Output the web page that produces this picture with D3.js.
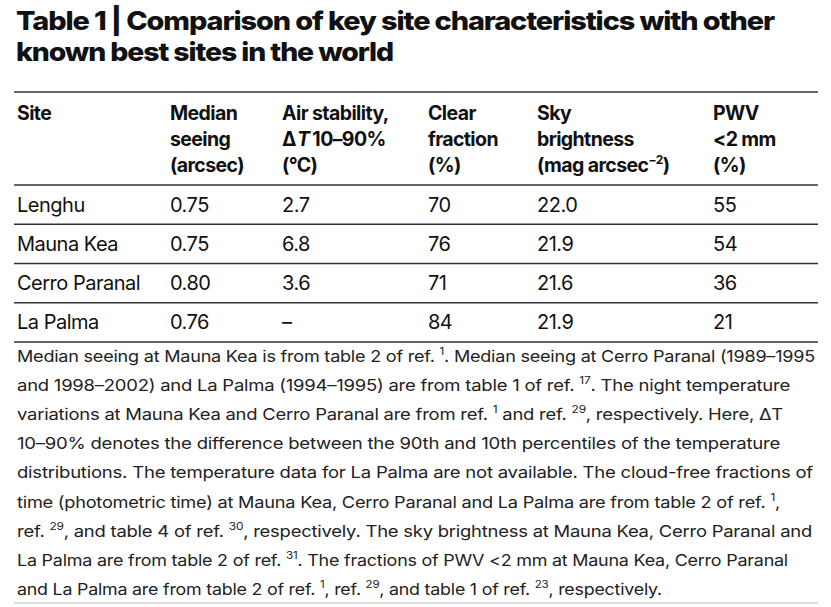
<!DOCTYPE html>
<html>
<head>
<script src="https://d3js.org/d3.v7.min.js"></script>
<style>body{margin:0;background:#fff}</style>
</head>
<body>
<div id="c"></div>
<script>
// table data
var sites = ["Lenghu", "Mauna Kea", "Cerro Paranal", "La Palma"];
var seeing = ["0.75", "0.75", "0.80", "0.76"];
var airStability = ["2.7", "6.8", "3.6", "–"];
var clearFraction = ["70", "76", "71", "84"];
var skyBrightness = ["22.0", "21.9", "21.6", "21.9"];
var pwv = ["55", "54", "36", "21"];
var headers = [
  [["Site"]],
  [["Median"], ["seeing"], ["(arcsec)"]],
  [["Air stability,"], ["Δ", "T", "10–90%"], ["(°C)"]],
  [["Clear"], ["fraction"], ["(%)"]],
  [["Sky"], ["brightness"], ["(mag arcsec", "−2", ")"]],
  [["PWV"], ["<2 mm"], ["(%)"]]
];
var notes = [
  ["Median seeing at Mauna Kea is from table 2 of ref. ", "1", ". Median seeing at Cerro Paranal (1989–1995"],
  ["and 1998–2002) and La Palma (1994–1995) are from table 1 of ref. ", "17", ". The night temperature"],
  ["variations at Mauna Kea and Cerro Paranal are from ref. ", "1", " and ref. ", "29", ", respectively. Here, ΔT"],
  ["10–90% denotes the difference between the 90th and 10th percentiles of the temperature"],
  ["distributions. The temperature data for La Palma are not available. The cloud-free fractions of"],
  ["time (photometric time) at Mauna Kea, Cerro Paranal and La Palma are from table 2 of ref. ", "1", ","],
  ["ref. ", "29", ", and table 4 of ref. ", "30", ", respectively. The sky brightness at Mauna Kea, Cerro Paranal and"],
  ["La Palma are from table 2 of ref. ", "31", ". The fractions of PWV <2 mm at Mauna Kea, Cerro Paranal"],
  ["and La Palma are from table 2 of ref. ", "1", ", ref. ", "29", ", and table 1 of ref. ", "23", ", respectively."]
];
var noteEnds = [815, 790, 783, 780, 813, 780, 812, 788, 662];

var columns = [sites, seeing, airStability, clearFraction, skyBrightness, pwv];
var colX = [17, 170, 282, 428, 537, 713];
var font = "Inter, 'Open Sans', sans-serif";

var svg = d3.select("#c").append("svg").attr("width", 831).attr("height", 607);

// title
svg.selectAll("text.title").data(["Table 1 | Comparison of key site characteristics with other", "known best sites in the world"])
  .enter().append("text")
  .attr("x", 16).attr("y", function(d, i) { return 30 + i * 31; })
  .attr("font-family", font).attr("font-weight", 800).attr("font-size", 26)
  .attr("letter-spacing", -1).attr("fill", "#111")
  .attr("textLength", function(d, i) { return i == 0 ? 758 : 377; })
  .attr("lengthAdjust", "spacingAndGlyphs")
  .text(function(d) { return d; });

function rule(y, w, c) {
  svg.append("line").attr("x1", 14).attr("x2", 818).attr("y1", y).attr("y2", y)
    .attr("stroke", c || "#333").attr("stroke-width", w);
}
rule(92, 1.6);

// header
headers.forEach(function(h, ci) {
  h.forEach(function(line, li) {
    var t = svg.append("text").attr("x", colX[ci]).attr("y", 120 + li * 26)
      .attr("font-family", font).attr("font-weight", 700).attr("font-size", 19.5)
      .attr("letter-spacing", -0.6).attr("fill", "#111");
    line.forEach(function(part, pi) {
      var s = t.append("tspan").text(part);
      if (part == "T") s.attr("font-style", "italic").attr("dx", 1);
      if (part == "10–90%") s.attr("dx", 3);
      if (part == "−2") s.attr("font-size", 12).attr("dy", -8);
      if (part == ")") s.attr("dy", 8);
    });
  });
});
rule(185, 1.6);

// rows
var y = d3.scaleBand().domain(sites).range([185, 342]);
sites.forEach(function(s, ri) {
  columns.forEach(function(col, ci) {
    svg.append("text").attr("x", colX[ci]).attr("y", y(s) + y.bandwidth() / 2 + 7)
      .attr("font-family", font).attr("font-size", 20).attr("letter-spacing", -0.5)
      .attr("fill", "#111").text(col[ri]);
  });
  rule(y(s) + y.bandwidth(), ri == sites.length - 1 ? 1.6 : 1.3);
});

// footnote
notes.forEach(function(n, i) {
  var t = svg.append("text").attr("x", 17).attr("y", 362 + i * 29.1)
    .attr("font-family", font).attr("font-size", 16.3).attr("letter-spacing", -0.2).attr("fill", "#222");
  n.forEach(function(part, pi) {
    var s = t.append("tspan").text(part);
    if (pi % 2 == 1) s.attr("font-size", 10.5).attr("dy", -7);
    else if (pi > 0) s.attr("dy", 7);
  });
  if (noteEnds[i]) t.attr("textLength", noteEnds[i] - 17).attr("lengthAdjust", "spacingAndGlyphs");
});
rule(603, 1, "#bbb");
</script>
</body>
</html>
